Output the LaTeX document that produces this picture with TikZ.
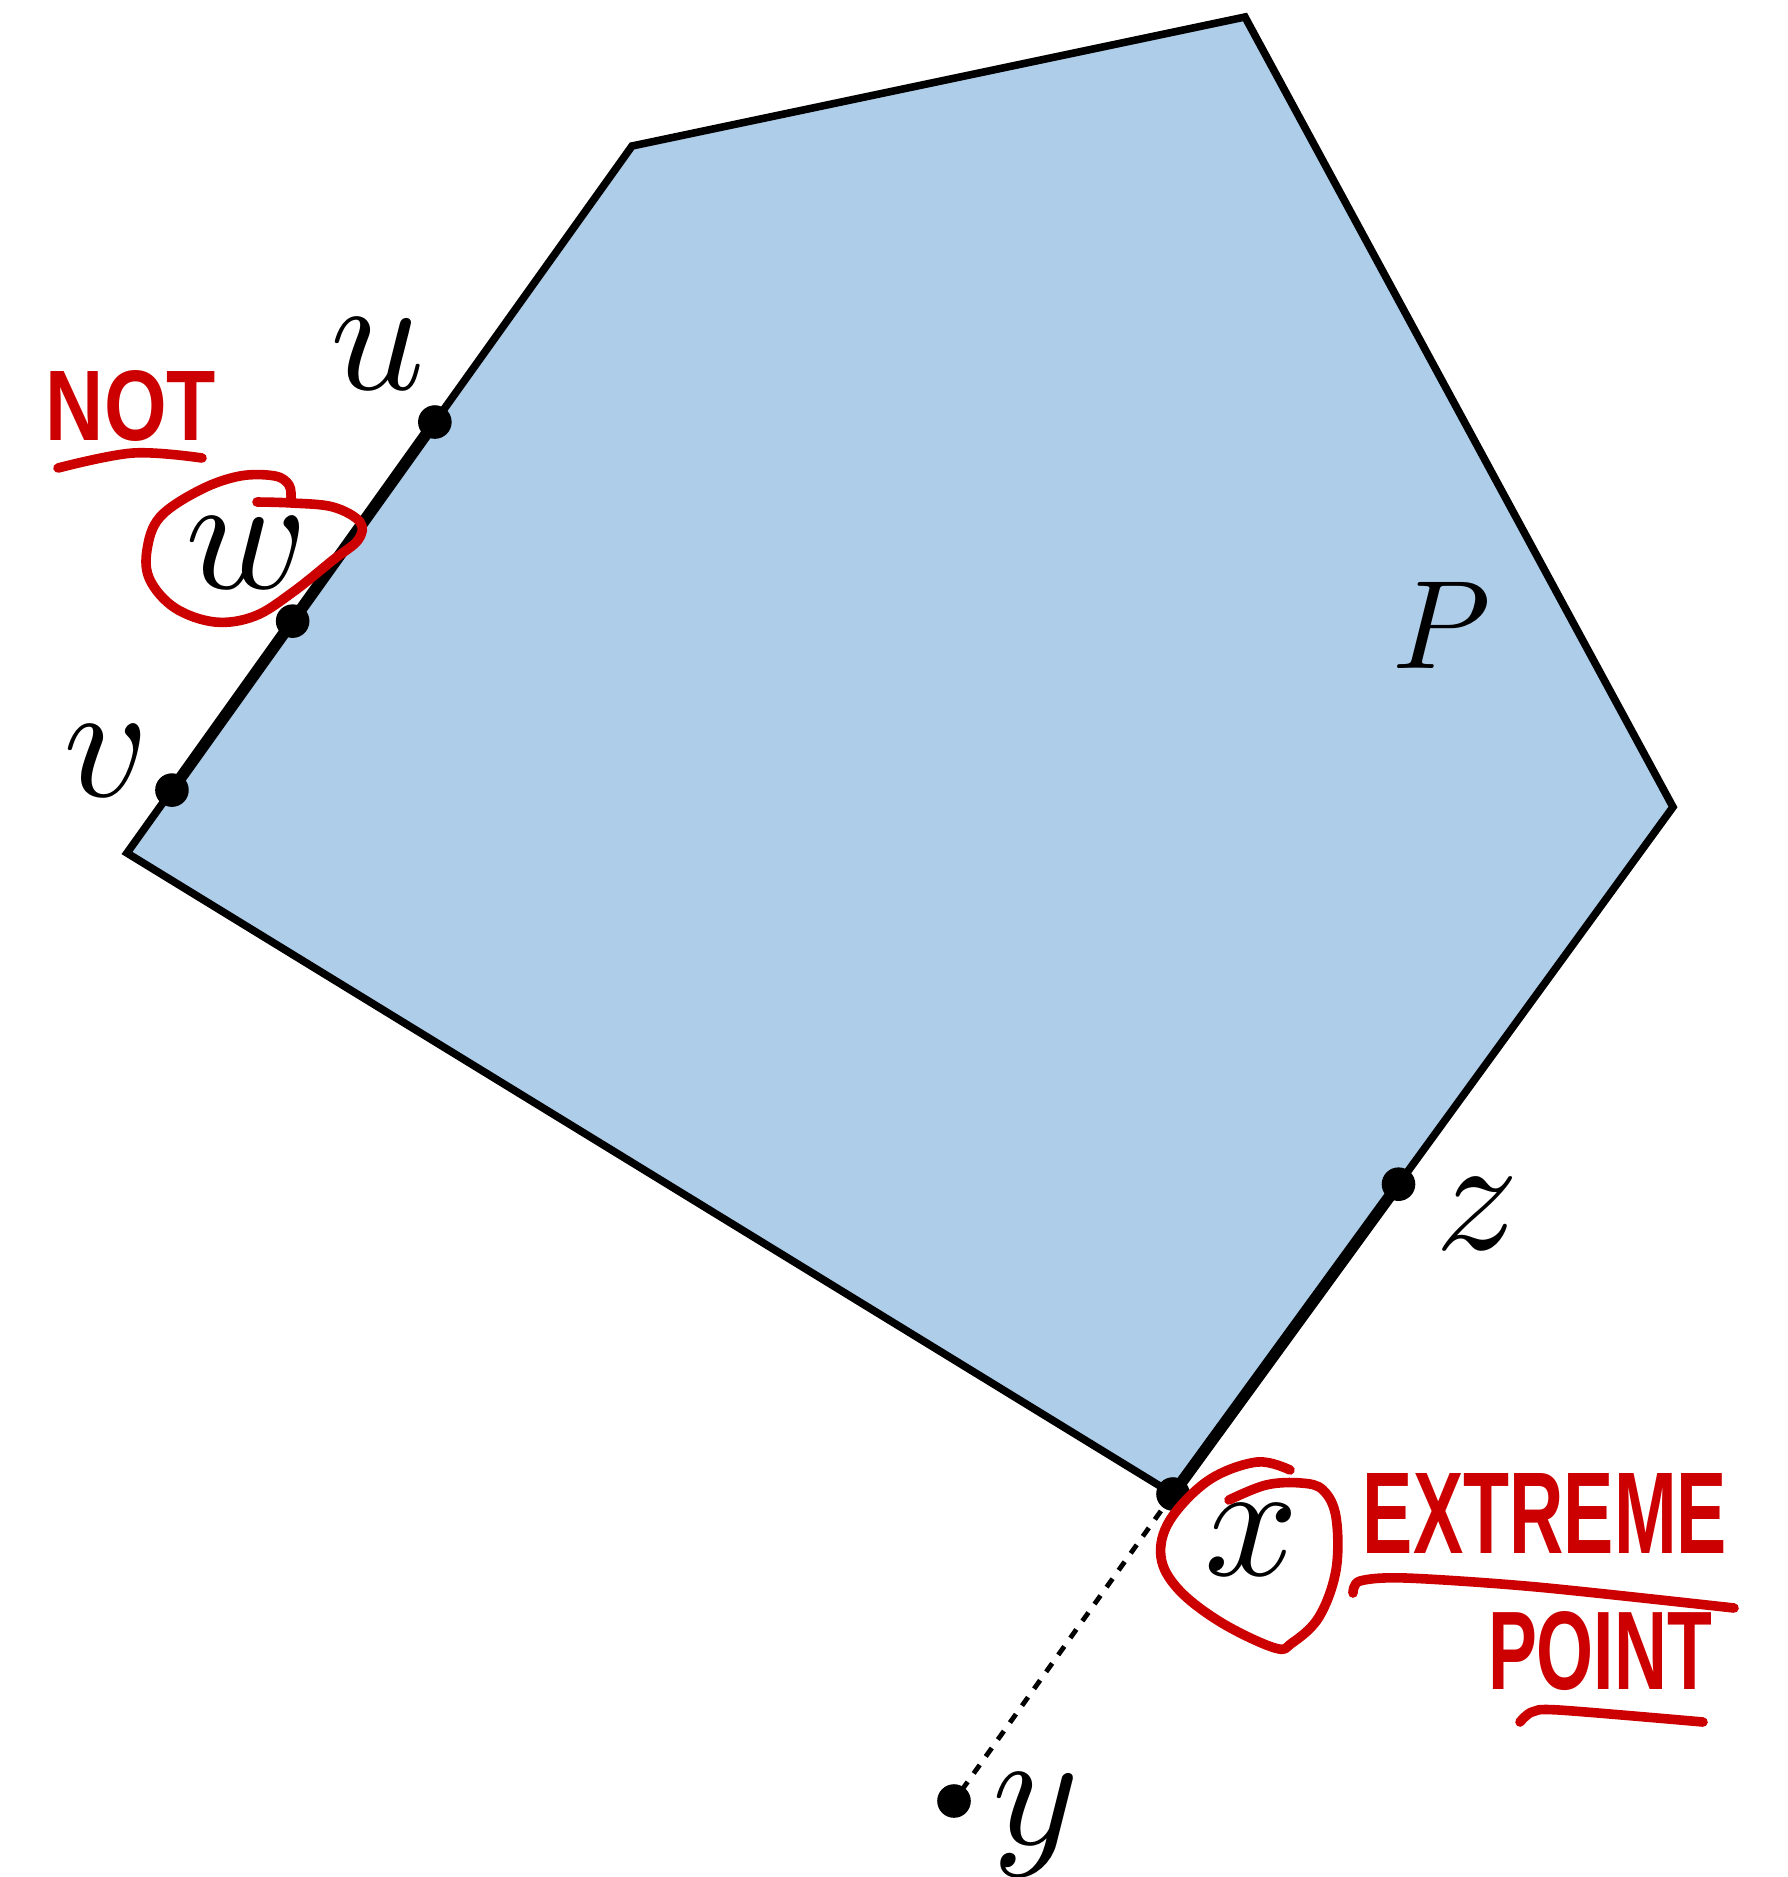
\documentclass[tikz,border=0pt]{standalone}
\usepackage{fontspec}
\usepackage{graphicx}
\newfontfamily\handfont{Liberation Sans}
\usetikzlibrary{calc}
\definecolor{polyfill}{RGB}{174,205,233}
\definecolor{pen}{RGB}{204,0,0}
\begin{document}
\begin{tikzpicture}[x=0.25pt,y=-0.25pt,
  edge/.style={line width=1.9pt, line join=miter},
  thickedge/.style={line width=2.9pt, line cap=round},
  dotline/.style={line width=1.2pt, dash pattern=on 2.6pt off 2.6pt},
  ptdot/.style={circle, fill=black, inner sep=0pt, minimum size=8.4pt},
  mlabel/.style={inner sep=0pt},
  redpen/.style={draw=pen, line width=2.4pt, line cap=round, line join=round},
  redtext/.style={text=pen, inner sep=0pt, font=\handfont\bfseries}
]
\useasboundingbox (0,0) rectangle (1788,1877);

% polygon vertices
\coordinate (L) at (127,853);
\coordinate (TL) at (632,146);
\coordinate (T) at (1245,17);
\coordinate (R) at (1673,807);
\coordinate (B) at (1173,1494);

% points
\coordinate (pv) at ($(L)!0.089!(TL)$);
\coordinate (pw) at ($(L)!0.328!(TL)$);
\coordinate (pu) at ($(L)!0.6096!(TL)$);
\coordinate (pz) at ($(B)!0.451!(R)$);
\coordinate (px) at (B);
\coordinate (py) at (954,1801);

\fill[polyfill] (L) -- (TL) -- (T) -- (R) -- (B) -- cycle;
\draw[edge] (L) -- (TL) -- (T) -- (R) -- (B) -- cycle;
\draw[thickedge] (pv) -- (pu);
\draw[thickedge] (px) -- (pz);
\draw[dotline] (px) -- (py);

\node[ptdot] (v) at (pv) {};
\node[ptdot] (w) at (pw) {};
\node[ptdot] (u) at (pu) {};
\node[ptdot] (z) at (pz) {};
\node[ptdot] (x) at (px) {};
\node[ptdot] (y) at (py) {};

% labels
\node[mlabel] (lu) at (378,354) {\scalebox{4.125}{$u$}};
\node[mlabel] (lw) at (247,553) {\scalebox{4.125}{$w$}};
\node[mlabel] (lv) at (106,761) {\scalebox{4.125}{$v$}};
\node[mlabel] (lP) at (1442,625) {\scalebox{3.15}{$P$}};
\node[mlabel] (lz) at (1477,1214) {\scalebox{4.125}{$z$}};
\node[mlabel] (lx) at (1252,1540) {\scalebox{4.125}{$x$}};
\node[mlabel] (ly) at (1036,1825) {\scalebox{4.125}{$y$}};

% red annotations
\draw[redpen] plot[smooth, tension=0.6] coordinates {
  (257,502) (292,503) (333,507) (360,522) (358,540) (333,560) (293,592)
  (255,616) (215,622) (175,608) (150,580) (147,550) (160,517) (200,490)
  (240,476) (275,476) (289,485) (291,498)};
\draw[redpen] plot[smooth, tension=0.6] coordinates {
  (1290,1470) (1257,1462) (1209,1480) (1170,1520) (1161,1557) (1179,1590)
  (1222,1623) (1275,1648) (1292,1643) (1319,1617) (1336,1570) (1336,1517)
  (1323,1490) (1301,1483) (1266,1485) (1229,1500)};

\node[redtext] (tnot) at (131,406) {\resizebox{42.5pt}{17.5pt}{NOT}};
\draw[redpen] plot[smooth, tension=0.6] coordinates {(58,468) (133,453) (202,458)};

\node[redtext] (text) at (1545,1513) {\resizebox{91pt}{20pt}{EXTREME}};
\draw[redpen] plot[smooth, tension=0.5] coordinates {(1353,1593) (1360,1581) (1406,1578) (1537,1587) (1734,1608)};

\node[redtext] (tpoint) at (1600,1651) {\resizebox{56pt}{19.5pt}{POINT}};
\draw[redpen] plot[smooth, tension=0.5] coordinates {(1520,1722) (1532,1712) (1559,1710) (1703,1722)};
\end{tikzpicture}
\end{document}
